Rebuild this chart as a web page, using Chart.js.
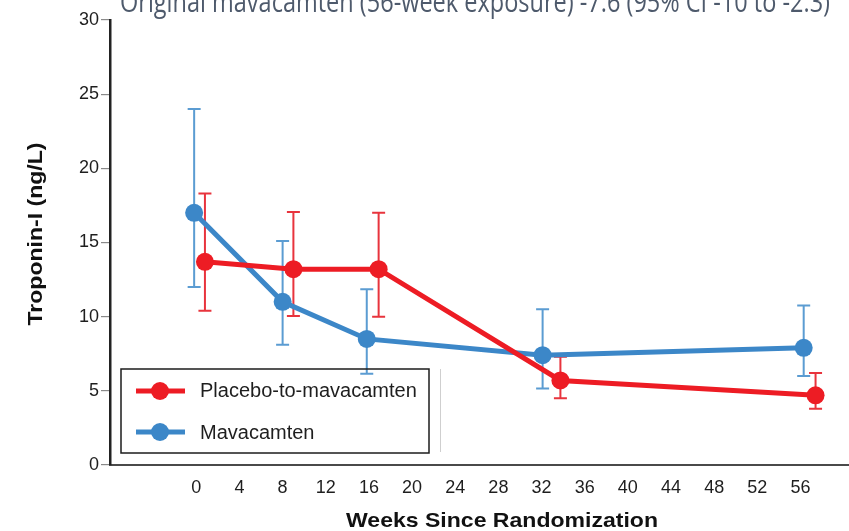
<!DOCTYPE html>
<html>
<head>
<meta charset="utf-8">
<script src="https://cdn.jsdelivr.net/npm/chart.js@4"></script>
<style>
  html, body { margin: 0; padding: 0; background: #ffffff; }
  #wrap { position: relative; width: 849px; height: 531px; }
</style>
</head>
<body>
<div id="wrap"><canvas id="c" width="849" height="531"></canvas></div>
<script>
// ---- data ----
const weekTicks = [0, 4, 8, 12, 16, 20, 24, 28, 32, 36, 40, 44, 48, 52, 56];
const yTicks = [0, 5, 10, 15, 20, 25, 30];
const seriesNames = ['Placebo-to-mavacamten', 'Mavacamten'];
const headline = 'Original mavacamten (56-week exposure) -7.6 (95% CI -10 to -2.3)';
const xTitle = 'Weeks Since Randomization';
const yTitle = 'Troponin-I (ng/L)';

// visit weeks are nudged apart per group so the error bars stay readable
const placeboWeeks = [0.8, 9.0, 16.9, 33.75, 57.4];
const placeboMean  = [13.7, 13.2, 13.2, 5.7, 4.7];
const placeboUpper = [18.3, 17.05, 17.0, 7.3, 6.2];
const placeboLower = [10.4, 10.05, 10.0, 4.5, 3.8];

const mavaWeeks = [-0.2, 8.0, 15.8, 32.1, 56.3];
const mavaMean  = [17.0, 11.0, 8.5, 7.4, 7.9];
const mavaUpper = [24.0, 15.1, 11.85, 10.5, 10.75];
const mavaLower = [12.0, 8.1, 6.15, 5.15, 6.0];

// ---- styling ----
const RED = '#ED1C24', RED_BAR = '#E8343D';
const BLUE = '#3C87C8', BLUE_BAR = '#5B9CD2';
const SANS = '"Liberation Sans", Arial, sans-serif';

const toPoints = (xs, ys) => xs.map((x, i) => ({ x, y: ys[i] }));

// vertical error bars with caps, drawn under the lines and markers
const errorBars = {
  id: 'errorBars',
  beforeDatasetsDraw(chart) {
    const { ctx, scales: { x, y } } = chart;
    chart.data.datasets.forEach(ds => {
      ctx.save();
      ctx.strokeStyle = ds.barColor;
      ctx.lineWidth = 2;
      ds.data.forEach((p, i) => {
        const px = x.getPixelForValue(p.x);
        const top = y.getPixelForValue(ds.upper[i]);
        const bot = y.getPixelForValue(ds.lower[i]);
        const cap = 6.5;
        ctx.beginPath();
        ctx.moveTo(px, top); ctx.lineTo(px, bot);
        ctx.moveTo(px - cap, top); ctx.lineTo(px + cap, top);
        ctx.moveTo(px - cap, bot); ctx.lineTo(px + cap, bot);
        ctx.stroke();
      });
      ctx.restore();
    });
  }
};

// boxed legend in the lower-left corner of the plot
const boxLegend = {
  id: 'boxLegend',
  afterDatasetsDraw(chart) {
    const { ctx } = chart;
    ctx.save();
    ctx.strokeStyle = '#1c1c1c';
    ctx.lineWidth = 1.5;
    ctx.strokeRect(121, 369, 308, 84);
    ctx.strokeStyle = '#cfcfcf';
    ctx.lineWidth = 1;
    ctx.beginPath(); ctx.moveTo(440.5, 369); ctx.lineTo(440.5, 452); ctx.stroke();
    const rows = [
      { y: 391, base: 397, color: RED, label: chart.data.datasets[0].label },
      { y: 432, base: 438.5, color: BLUE, label: chart.data.datasets[1].label }
    ];
    rows.forEach(r => {
      ctx.strokeStyle = r.color;
      ctx.lineWidth = 5;
      ctx.beginPath(); ctx.moveTo(136, r.y); ctx.lineTo(185, r.y); ctx.stroke();
      ctx.fillStyle = r.color;
      ctx.beginPath(); ctx.arc(160, r.y, 9, 0, Math.PI * 2); ctx.fill();
      ctx.fillStyle = '#1e1e1e';
      ctx.font = '20px ' + SANS;
      ctx.textBaseline = 'alphabetic';
      ctx.textAlign = 'left';
      ctx.fillText(r.label, 200, r.base);
    });
    ctx.restore();
  }
};

// headline and axis titles
const captions = {
  id: 'captions',
  afterDraw(chart) {
    const { ctx } = chart;
    const stretched = (text, font, cx, baseY, width, color, rotate) => {
      ctx.save();
      ctx.font = font;
      ctx.fillStyle = color;
      ctx.textAlign = 'center';
      ctx.textBaseline = 'alphabetic';
      const w = ctx.measureText(text).width;
      ctx.translate(cx, baseY);
      if (rotate) ctx.rotate(-Math.PI / 2);
      ctx.scale(width / w, 1);
      ctx.fillText(text, 0, 0);
      ctx.restore();
    };
    stretched(headline, '30px "Open Sans", sans-serif', 475, 12, 710, '#4E5A6C', false);
    stretched(xTitle, 'bold 21px ' + SANS, 502, 527, 312, '#111111', false);
    ctx.save();
    ctx.translate(42, 234);
    stretched(yTitle, 'bold 20px ' + SANS, 0, 0, 183, '#111111', true);
    ctx.restore();
  }
};

new Chart(document.getElementById('c'), {
  type: 'scatter',
  data: {
    datasets: [
      {
        label: seriesNames[0],
        data: toPoints(placeboWeeks, placeboMean),
        upper: placeboUpper, lower: placeboLower, barColor: RED_BAR,
        showLine: true, borderColor: RED, backgroundColor: RED,
        borderWidth: 5, pointRadius: 9, pointBorderWidth: 0,
        pointBackgroundColor: RED, tension: 0, clip: false
      },
      {
        label: seriesNames[1],
        data: toPoints(mavaWeeks, mavaMean),
        upper: mavaUpper, lower: mavaLower, barColor: BLUE_BAR,
        showLine: true, borderColor: BLUE, backgroundColor: BLUE,
        borderWidth: 5, pointRadius: 9, pointBorderWidth: 0,
        pointBackgroundColor: BLUE, tension: 0, clip: false
      }
    ]
  },
  options: {
    responsive: false,
    animation: false,
    layout: { autoPadding: false, padding: { top: 20, right: 0, left: 0, bottom: 0 } },
    plugins: { legend: { display: false }, tooltip: { enabled: false } },
    scales: {
      x: {
        type: 'linear',
        min: -8, max: 60.5,
        afterBuildTicks: s => { s.ticks = weekTicks.map(v => ({ value: v })); },
        afterFit: s => { s.height = 66; s.paddingLeft = 0; s.paddingRight = 0; },
        grid: { display: false, drawTicks: false },
        border: { display: true, color: '#4a4a4a', width: 2 },
        ticks: { color: '#1e1e1e', font: { family: SANS, size: 18 }, padding: 12, maxRotation: 0, autoSkip: false }
      },
      y: {
        min: 0, max: 30,
        afterBuildTicks: s => { s.ticks = yTicks.map(v => ({ value: v })); },
        afterFit: s => { s.width = 110; },
        grid: { drawOnChartArea: false, drawTicks: true, tickLength: 9, color: '#8a8a8a', lineWidth: 1.2 },
        border: { display: true, color: '#222222', width: 2.5 },
        ticks: { color: '#1e1e1e', font: { family: SANS, size: 18 }, padding: 2 }
      }
    }
  },
  plugins: [errorBars, boxLegend, captions]
});
</script>
</body>
</html>
